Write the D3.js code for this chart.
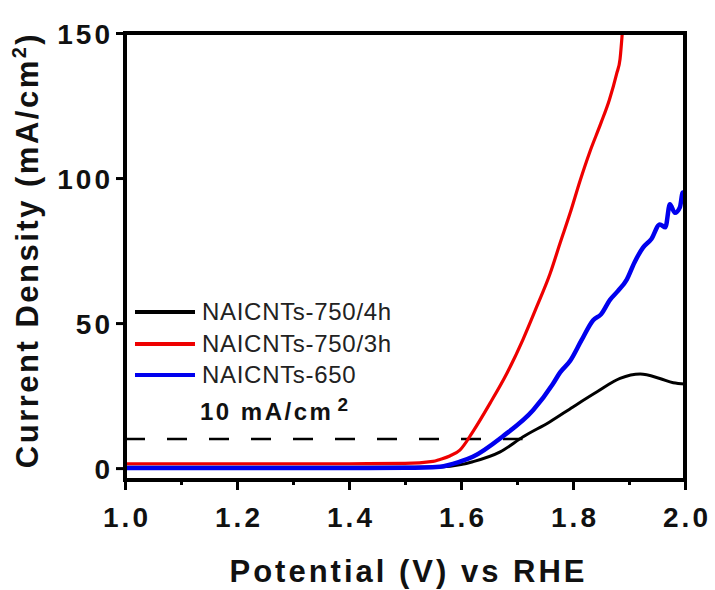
<!DOCTYPE html>
<html>
<head>
<meta charset="utf-8">
<script src="https://cdn.jsdelivr.net/npm/d3@7"></script>
<style>
  html, body { margin: 0; padding: 0; background: #fff; overflow: hidden; }
  svg { display: block; }
  text { font-family: "Liberation Sans", Arial, sans-serif; }
</style>
</head>
<body>
<div id="chart"></div>
<script>
// Potential (V vs RHE) and current density (mA/cm2)
const black4hV = [1.0, 1.2, 1.4, 1.5, 1.5625, 1.6, 1.621, 1.670, 1.711, 1.759, 1.80, 1.843, 1.884, 1.920, 1.955, 1.979, 2.0];
const black4hJ = [0.3, 0.3, 0.3, 0.3, 0.4, 1.2, 2.2, 5.6, 10.8, 16, 21.1, 26.3, 30.9, 32.4, 30.9, 29.4, 29];

const red3hV = [1.0, 1.1, 1.2, 1.3, 1.4, 1.5, 1.55, 1.5625, 1.58, 1.598, 1.621, 1.652, 1.682, 1.711, 1.736, 1.759, 1.777, 1.795, 1.8125, 1.83, 1.85, 1.865, 1.878, 1.884, 1.888];
const red3hJ = [1.5, 1.5, 1.5, 1.5, 1.5, 1.6, 2.3, 3.0, 4.2, 6.2, 12.5, 22.4, 32.7, 44.5, 56, 67, 77.6, 88, 99, 109, 119, 127, 136, 141, 150];

const blue650V = [1.0, 1.2, 1.4, 1.5, 1.5625, 1.598, 1.621, 1.675, 1.729, 1.764, 1.777, 1.795, 1.815, 1.836, 1.85, 1.866, 1.88, 1.896, 1.91, 1.925, 1.94, 1.955, 1.965, 1.973, 1.982, 1.991, 1.996, 2.0];
const blue650J = [0, 0, 0, 0.1, 0.5, 2.2, 3.9, 11, 20, 29, 33, 37, 44, 51, 53, 58, 61, 65, 71, 76, 79, 84, 83, 91, 88, 90, 95, 92];

const seriesNames = ["NAICNTs-750/4h", "NAICNTs-750/3h", "NAICNTs-650"];
const seriesColors = ["#000000", "#ee0000", "#0000ee"];

const xTicks = [1.0, 1.2, 1.4, 1.6, 1.8, 2.0];
const xMinorTicks = [1.1, 1.3, 1.5, 1.7, 1.9];
const yTicks = [0, 50, 100, 150];

const refLevel = 10;       // dashed 10 mA/cm2 line
const refEnd = 1.71;

const width = 715, height = 590;
const margin = { top: 33, right: 30, bottom: 110, left: 125 };
const innerWidth = width - margin.left - margin.right;
const innerHeight = height - margin.top - margin.bottom;

const root = d3.select("#chart").append("svg")
    .attr("width", width)
    .attr("height", height);

const svg = root.append("g")
    .attr("transform", `translate(${margin.left}, ${margin.top})`);

const x = d3.scaleLinear().domain([1.0, 2.0]).range([0, innerWidth]);
const y = d3.scaleLinear().domain([-4.1, 150]).range([innerHeight, 0]);

svg.append("clipPath").attr("id", "plotclip")
    .append("rect").attr("width", innerWidth).attr("height", innerHeight);

// reference dashed line
svg.append("line")
    .attr("x1", x(1.0)).attr("x2", x(refEnd))
    .attr("y1", y(refLevel)).attr("y2", y(refLevel))
    .attr("stroke", "#000")
    .attr("stroke-width", 2.5)
    .attr("stroke-dasharray", "20 22");

const line = d3.line()
    .x(d => x(d[0]))
    .y(d => y(d[1]))
    .curve(d3.curveMonotoneX);

const series = [
    { v: black4hV, j: black4hJ, w: 3 },
    { v: red3hV, j: red3hJ, w: 3.2 },
    { v: blue650V, j: blue650J, w: 4.5 }
];

series.forEach((s, i) => {
    svg.append("path")
        .datum(d3.zip(s.v, s.j))
        .attr("clip-path", "url(#plotclip)")
        .attr("fill", "none")
        .attr("stroke", seriesColors[i])
        .attr("stroke-width", s.w)
        .attr("stroke-linejoin", "round")
        .attr("d", line);
});

// frame
svg.append("rect")
    .attr("width", innerWidth)
    .attr("height", innerHeight)
    .attr("fill", "none")
    .attr("stroke", "#000")
    .attr("stroke-width", 4);

// X-axis ticks (major and minor)
svg.append("g")
    .attr("transform", `translate(0,${innerHeight})`)
    .call(d3.axisBottom(x).tickValues(xTicks).tickSize(10).tickSizeOuter(0).tickFormat(""))
    .call(g => g.select(".domain").remove())
    .call(g => g.selectAll("line").attr("stroke-width", 3));

svg.append("g")
    .attr("transform", `translate(0,${innerHeight})`)
    .call(d3.axisBottom(x).tickValues(xMinorTicks).tickSize(5).tickSizeOuter(0).tickFormat(""))
    .call(g => g.select(".domain").remove())
    .call(g => g.selectAll("line").attr("stroke-width", 3));

// X tick labels: shifted copy of the scale so the labels sit in positive space
const labPad = 40;
const xLab = x.copy().range([labPad, innerWidth + labPad]);
root.append("g")
    .attr("transform", `translate(${margin.left - labPad},${margin.top + innerHeight})`)
    .call(d3.axisBottom(xLab).tickValues(xTicks).tickSize(0).tickSizeOuter(0).tickFormat(d3.format(".1f")))
    .call(g => g.select(".domain").remove())
    .selectAll("text")
    .attr("y", 47)
    .attr("dy", 0)
    .attr("dx", 1.5)
    .attr("letter-spacing", 3)
    .style("font-size", "28px")
    .style("font-weight", "bold")
    .attr("fill", "#111");

// Y-axis ticks
svg.append("g")
    .call(d3.axisLeft(y).tickValues(yTicks).tickSize(9).tickSizeOuter(0).tickFormat(""))
    .call(g => g.select(".domain").remove())
    .call(g => g.selectAll("line").attr("stroke-width", 3));

// Y tick labels
root.append("g")
    .attr("transform", `translate(52,${margin.top})`)
    .call(d3.axisRight(y).tickValues(yTicks).tickSize(0).tickSizeOuter(0))
    .call(g => g.select(".domain").remove())
    .selectAll("text")
    .attr("x", 61)
    .attr("text-anchor", "end")
    .attr("dy", "0.36em")
    .attr("letter-spacing", 3)
    .style("font-size", "28px")
    .style("font-weight", "bold")
    .attr("fill", "#111");

// X-axis label
svg.append("text")
    .attr("text-anchor", "middle")
    .attr("x", 407 - margin.left + 1.5)
    .attr("y", 582 - margin.top)
    .attr("letter-spacing", 3)
    .style("font-size", "31px")
    .style("font-weight", "bold")
    .attr("fill", "#111")
    .text("Potential (V) vs RHE");

// Y-axis label (reads bottom to top)
const yLab = root.append("text")
    .attr("text-anchor", "middle")
    .attr("transform", "translate(8, 482) rotate(-90)")
    .attr("x", 232)
    .attr("y", 30)
    .attr("letter-spacing", 2.5)
    .style("font-size", "31px")
    .style("font-weight", "bold")
    .attr("fill", "#111");
yLab.append("tspan").text("Current Density (mA/cm");
yLab.append("tspan").attr("dy", -12).style("font-size", "20px").text("2");
yLab.append("tspan").attr("dy", 12).text(")");

// Legend
const legendX = 135 - margin.left;
const legendBase = [320, 352, 383];
seriesNames.forEach((name, i) => {
    const by = legendBase[i] - margin.top;
    svg.append("line")
        .attr("x1", legendX).attr("x2", legendX + 60)
        .attr("y1", by - 8).attr("y2", by - 8)
        .attr("stroke", seriesColors[i])
        .attr("stroke-width", 4);
    svg.append("text")
        .attr("x", legendX + 67)
        .attr("y", by)
        .attr("letter-spacing", 0.7)
        .style("font-size", "24px")
        .attr("fill", "#222")
        .text(name);
});

const refLab = svg.append("text")
    .attr("x", 200 - margin.left)
    .attr("y", 420 - margin.top)
    .attr("letter-spacing", 2.5)
    .style("font-size", "24px")
    .style("font-weight", "bold")
    .attr("fill", "#111");
refLab.append("tspan").text("10 mA/cm");
refLab.append("tspan").attr("dy", -9).attr("dx", 4).style("font-size", "19px").text("2");
</script>
</body>
</html>
